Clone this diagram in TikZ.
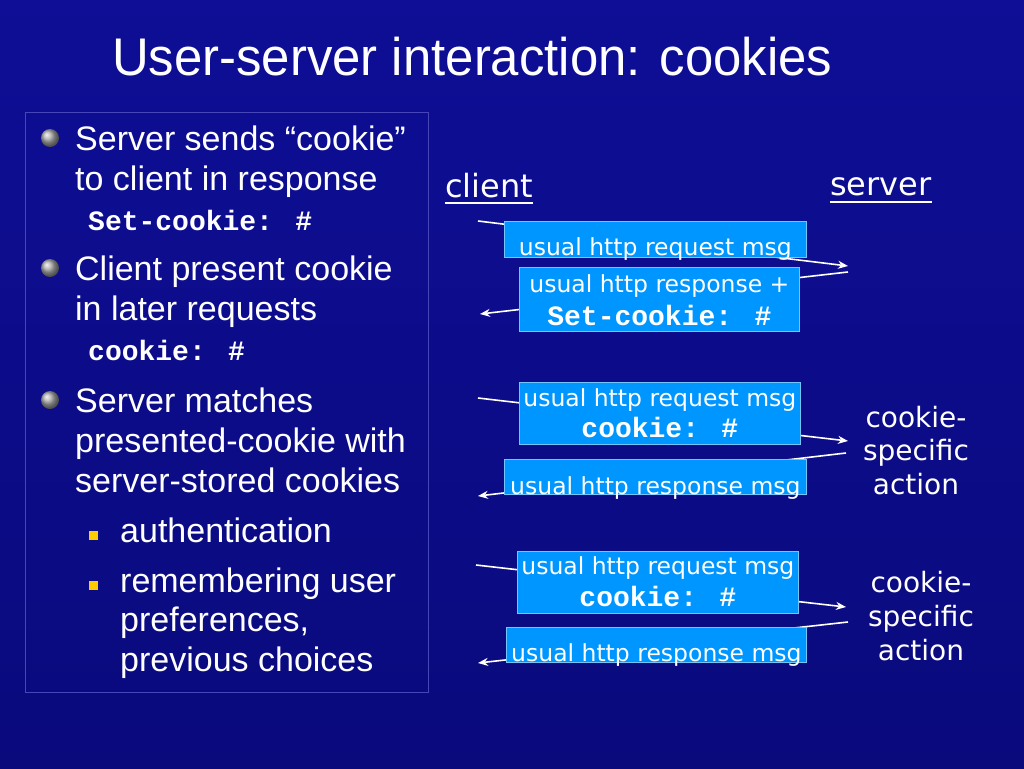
\documentclass[tikz,border=0pt]{standalone}
\usepackage{fontspec}
\setmainfont{Liberation Sans}
\newfontfamily\cfont{DejaVu Sans}
\newfontfamily\mfont{Liberation Mono}
\usetikzlibrary{arrows.meta}
\definecolor{bgtop}{RGB}{14,14,150}
\definecolor{bgbot}{RGB}{10,10,125}
\definecolor{boxblue}{RGB}{0,150,255}
\definecolor{frameblue}{RGB}{70,70,185}
\definecolor{bulyellow}{RGB}{255,204,0}
\tikzset{
  body/.style={anchor=base west, inner sep=0pt, text=white, font=\fontsize{34}{41}\selectfont},
  mono/.style={anchor=base west, inner sep=0pt, text=white, font=\mfont\bfseries\fontsize{28}{32}\selectfont},
  cmono/.style={anchor=base, inner sep=0pt, text=white, font=\mfont\bfseries\fontsize{28}{32}\selectfont},
  ctext/.style={anchor=base, inner sep=0pt, text=white, font=\cfont\fontsize{23.5}{28}\selectfont},
  clabel/.style={anchor=base, inner sep=0pt, text=white, font=\cfont\fontsize{28}{34}\selectfont},
  party/.style={anchor=base west, inner sep=0pt, text=white, font=\cfont\fontsize{32}{38}\selectfont},
  msgbox/.style={draw=white!45!boxblue, line width=0.8pt, fill=boxblue, anchor=north west, inner sep=0pt},
  msg/.style={draw=white, line width=1.6pt, -{Stealth[length=10pt,width=8pt]}},
  ballbul/.style={ball color=gray!65},
  sqbul/.style={fill=bulyellow, draw=none}
}
\begin{document}
\begin{tikzpicture}[x=1pt,y=-1pt]
\useasboundingbox (0,0) rectangle (1024,768);
\shade[top color=bgtop, bottom color=bgbot] (0,0) rectangle (1024,768);

% title
\node[anchor=base west, inner sep=0pt, text=white, font=\fontsize{53}{60}\selectfont] (title) at (112,75) {\scalebox{0.96}[1]{User-server interaction: cookies}};

% left frame
\node[draw=frameblue, line width=1pt, minimum width=403pt, minimum height=580pt, anchor=north west, inner sep=0pt] (frame) at (25,112) {};

% bullets
\shade[ballbul] (50,138) circle (9);
\shade[ballbul] (50,268) circle (9);
\shade[ballbul] (50,400) circle (9);
\fill[sqbul] (88.5,530.5) rectangle (97.5,539.5);
\fill[sqbul] (88.5,580.5) rectangle (97.5,589.5);

\node[body] (t1) at (75,150) {Server sends “cookie”};
\node[body] (t2) at (75,190) {to client in response};
\node[mono] (t3) at (88,230) {Set-cookie: \#};
\node[body] (t4) at (75,280) {Client present cookie};
\node[body] (t5) at (75,320) {in later requests};
\node[mono] (t6) at (88,360) {cookie: \#};
\node[body] (t7) at (75,412) {Server matches};
\node[body] (t8) at (75,452) {presented-cookie with};
\node[body] (t9) at (75,492) {server-stored cookies};
\node[body] (t10) at (120,542) {authentication};
\node[body] (t11) at (120,592) {remembering user};
\node[body] (t12) at (120,631) {preferences,};
\node[body] (t13) at (120,671) {previous choices};

% parties
\node[party] (client) at (445,197) {client};
\draw[white, line width=1.6pt] (client.base west) ++(0,6) coordinate (cu1) -- (cu1 -| client.base east);
\node[party] (server) at (830,195) {server};
\draw[white, line width=1.6pt] (server.base west) ++(0,7) coordinate (su1) -- (su1 -| server.base east);

% arrow endpoints
\coordinate (a1s) at (478,221); \coordinate (a1e) at (848,266);
\coordinate (a2s) at (848,272); \coordinate (a2e) at (480,314);
\coordinate (a3s) at (478,398); \coordinate (a3e) at (848,441);
\coordinate (a4s) at (846,453); \coordinate (a4e) at (478,496);
\coordinate (a5s) at (476,565); \coordinate (a5e) at (846,607);
\coordinate (a6s) at (848,622); \coordinate (a6e) at (478,663);
\draw[msg] (a1s) -- (a1e);
\draw[msg] (a2s) -- (a2e);
\draw[msg] (a3s) -- (a3e);
\draw[msg] (a4s) -- (a4e);
\draw[msg] (a5s) -- (a5e);
\draw[msg] (a6s) -- (a6e);

% message boxes
\node[msgbox, minimum width=302pt, minimum height=36pt] (b1) at (504,221) {};
\node[msgbox, minimum width=280pt, minimum height=64pt] (b2) at (519,267) {};
\node[msgbox, minimum width=281pt, minimum height=62pt] (b3) at (519,382) {};
\node[msgbox, minimum width=302pt, minimum height=35pt] (b4) at (504,459) {};
\node[msgbox, minimum width=281pt, minimum height=62pt] (b5) at (517,551) {};
\node[msgbox, minimum width=300pt, minimum height=35pt] (b6) at (506,627) {};

\node[ctext] (m1) at (b1.center |- 0,255) {usual http request msg};
\node[ctext] (m2a) at (b2.center |- 0,292) {usual http response +};
\node[cmono] (m2b) at (b2.center |- 0,325) {Set-cookie: \#};
\node[ctext] (m3a) at (b3.center |- 0,406) {usual http request msg};
\node[cmono] (m3b) at (b3.center |- 0,437) {cookie: \#};
\node[ctext] (m4) at (b4.center |- 0,494) {usual http response msg};
\node[ctext] (m5a) at (b5.center |- 0,574) {usual http request msg};
\node[cmono] (m5b) at (b5.center |- 0,606) {cookie: \#};
\node[ctext] (m6) at (b6.center |- 0,661) {usual http response msg};

% server actions
\node[clabel] (ca1) at (916,427) {cookie-};
\node[clabel] (ca2) at (916,460) {specific};
\node[clabel] (ca3) at (916,494) {action};
\node[clabel] (cb1) at (921,592) {cookie-};
\node[clabel] (cb2) at (921,626) {specific};
\node[clabel] (cb3) at (921,660) {action};
\end{tikzpicture}
\end{document}
